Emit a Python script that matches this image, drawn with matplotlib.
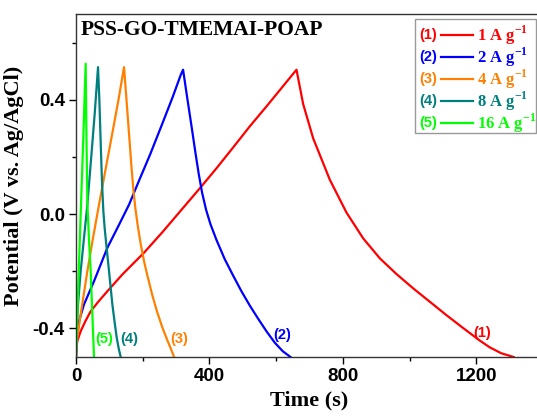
import matplotlib

matplotlib.use("Agg")

import matplotlib.pyplot as plt
from matplotlib.lines import Line2D
from matplotlib.patches import Rectangle
from matplotlib.ticker import FuncFormatter, MultipleLocator

plt.rcParams["mathtext.fontset"] = "custom"
plt.rcParams["mathtext.rm"] = "Liberation Serif:bold"
plt.rcParams["mathtext.bf"] = "Liberation Serif:bold"

# GCD curves: time (s) and potential (V vs. Ag/AgCl)
t_1 = [0, 1, 4, 14, 28, 44, 68, 94, 140, 204, 260, 314, 371, 421, 471, 521, 572, 621, 661,
       681, 711, 761, 811, 861, 911, 961, 1011, 1061, 1111, 1161, 1210, 1240, 1275, 1312]
v_1 = [-0.50, -0.47, -0.444, -0.41, -0.375, -0.34, -0.305, -0.27, -0.21, -0.135, -0.062, 0.012,
       0.09, 0.16, 0.233, 0.307, 0.378, 0.448, 0.505,
       0.385, 0.265, 0.12, 0.005, -0.085, -0.155, -0.21, -0.26, -0.307, -0.354, -0.399,
       -0.442, -0.466, -0.487, -0.50]

t_2 = [0, 1, 2, 9, 24, 54, 94, 130, 159, 190, 222, 260, 290, 314, 321,
       333, 346, 358, 368, 378, 390, 403, 421, 446, 471, 496, 521, 546, 571, 596, 620, 643]
v_2 = [-0.50, -0.47, -0.432, -0.375, -0.316, -0.235, -0.118, -0.035, 0.033, 0.12, 0.208, 0.32,
       0.41, 0.487, 0.505,
       0.41, 0.31, 0.215, 0.14, 0.075, 0.015, -0.035, -0.09, -0.158, -0.215, -0.27, -0.32,
       -0.366, -0.41, -0.45, -0.48, -0.50]

t_3 = [0, 1, 4, 14, 34, 50, 69, 90, 110, 128, 144,
       152, 160, 166, 172, 178, 185, 194, 204, 214, 229, 244, 259, 274, 285, 294]
v_3 = [-0.50, -0.47, -0.432, -0.351, -0.20, -0.09, 0.033, 0.165, 0.29, 0.404, 0.514,
       0.39, 0.265, 0.17, 0.085, 0.02, -0.04, -0.105, -0.165, -0.215, -0.285, -0.345, -0.397,
       -0.442, -0.473, -0.50]

t_4 = [0, 1, 2, 6, 14, 24, 34, 45, 56, 66,
       70, 74, 78, 82, 86, 92, 99, 109, 116, 122, 128, 134]
v_4 = [-0.50, -0.46, -0.41, -0.316, -0.20, -0.083, 0.033, 0.19, 0.35, 0.514,
       0.40, 0.25, 0.11, 0.01, -0.05, -0.12, -0.20, -0.316, -0.38, -0.432, -0.47, -0.50]

t_5 = [0, 2, 14, 22, 29,
       31, 34, 39, 44, 49, 54]
v_5 = [-0.50, -0.42, 0.0, 0.27, 0.526,
       0.30, 0.04, -0.09, -0.20, -0.35, -0.50]

series_t = [t_1, t_2, t_3, t_4, t_5]
series_v = [v_1, v_2, v_3, v_4, v_5]
colors = ["#FF0000", "#0000FF", "#FF8000", "#007F7F", "#00FF00"]
tags = ["(1)", "(2)", "(3)", "(4)", "(5)"]
legend_labels = ["1 A g$^{-1}$", "2 A g$^{-1}$", "4 A g$^{-1}$", "8 A g$^{-1}$", "16 A g$^{-1}$"]
tag_t = [1219, 617, 309, 159, 84]
tag_v = [-0.417, -0.424, -0.438, -0.438, -0.438]

fig = plt.figure(figsize=(5.37, 4.16), dpi=100)
W, H = 537, 416
ax = fig.add_axes([76 / W, 1 - 357 / H, (543 - 76) / W, (357 - 14) / H])

for t, v, c in zip(series_t, series_v, colors):
    ax.plot(t, v, color=c, linewidth=1.6)

for tag, x, y, c in zip(tags, tag_t, tag_v, colors):
    ax.text(x, y, tag, color=c, fontsize=10.5, fontweight="bold",
            family="Liberation Sans", ha="center", va="center")

ax.set_xlim(0, 1400)
ax.set_ylim(-0.5, 0.7)
ax.xaxis.set_major_locator(MultipleLocator(400))
ax.xaxis.set_minor_locator(MultipleLocator(200))
ax.yaxis.set_major_locator(MultipleLocator(0.4))
ax.yaxis.set_minor_locator(MultipleLocator(0.2))
ax.tick_params(which="major", direction="out", length=5, width=1, pad=3, labelsize=13.5)
ax.tick_params(which="minor", direction="out", length=3, width=1)
for lab in ax.get_xticklabels() + ax.get_yticklabels():
    lab.set_fontfamily("Liberation Sans")
    lab.set_fontweight("bold")
ax.yaxis.set_major_formatter(FuncFormatter(lambda v, p: f"{v:.1f}"))
ax.xaxis.set_major_formatter(FuncFormatter(lambda v, p: f"{v:.0f}"))
for s in ax.spines.values():
    s.set_linewidth(1.0)
    s.set_color("#333333")
ax.spines["right"].set_visible(False)

ax.set_xlabel("Time (s)", family="Liberation Serif", fontweight="bold", fontsize=16, labelpad=4)
ax.set_ylabel("Potential (V vs. Ag/AgCl)", family="Liberation Serif", fontweight="bold",
              fontsize=16, labelpad=6)

fig.text(81 / W, 1 - 30 / H, "PSS-GO-TMEMAI-POAP", family="Liberation Serif",
         fontweight="bold", fontsize=15.5, ha="left", va="center")

# legend drawn by hand: tag, sample line, label
fig.patches.append(Rectangle((415 / W, 1 - 133 / H), (536 - 415) / W, (133 - 19) / H,
                             transform=fig.transFigure, facecolor="white",
                             edgecolor="#999999", linewidth=1.0))
for i, (tag, lab, c) in enumerate(zip(tags, legend_labels, colors)):
    y = 1 - (35 + 22 * i) / H
    fig.text(428.5 / W, y, tag, color=c, family="Liberation Sans", fontweight="bold",
             fontsize=10.5, ha="center", va="center")
    fig.lines.append(Line2D([441 / W, 473 / W], [y, y], transform=fig.transFigure,
                            color=c, linewidth=1.6))
    fig.text(477 / W, y, lab, color=c, family="Liberation Serif", fontweight="bold",
             fontsize=12, ha="left", va="center")

fig.savefig("out.png", dpi=100)
